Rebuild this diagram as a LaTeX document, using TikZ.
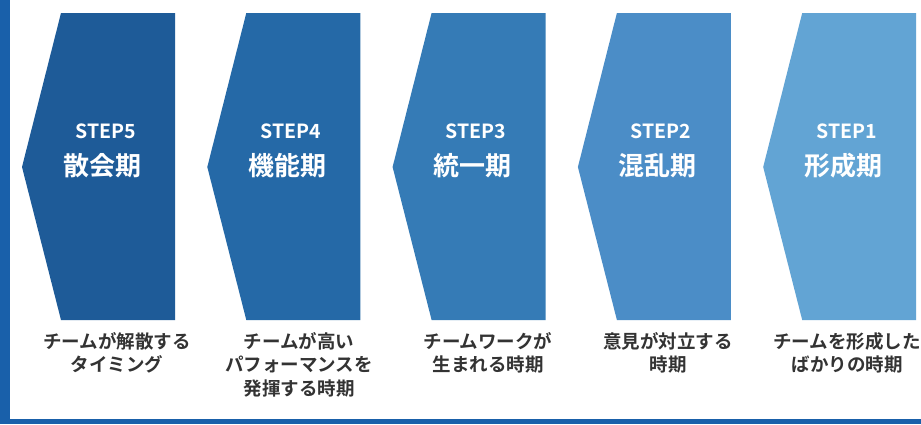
\documentclass[tikz,border=0pt]{standalone}
\usepackage{fontspec}
\setmainfont{Noto Sans CJK JP}
\newfontfamily\jpb{Noto Sans CJK JP Bold}
\definecolor{cfive}{HTML}{1E5B98}
\definecolor{cfour}{HTML}{2569A7}
\definecolor{cthree}{HTML}{357BB6}
\definecolor{ctwo}{HTML}{4B8DC7}
\definecolor{cone}{HTML}{62A4D4}
\definecolor{frame}{HTML}{1960AA}
\definecolor{captxt}{HTML}{333333}
\tikzset{
  steplabel/.style={text=white, font=\jpb\fontsize{19.5}{21}\selectfont, inner sep=0pt, anchor=center},
  phaselabel/.style={text=white, font=\jpb\fontsize{26}{28}\selectfont, inner sep=0pt, anchor=center},
  caption/.style={text=captxt, font=\jpb\fontsize{18.5}{23.5}\selectfont, align=center, inner sep=0pt, anchor=north}
}
\begin{document}
\begin{tikzpicture}[x=1pt,y=-1pt]
\useasboundingbox (0,0) rectangle (921,424);
\fill[white] (0,0) rectangle (921,424);
% frame
\fill[frame] (0,0) rectangle (10,424);
\fill[frame] (0,419) rectangle (921,424);
% arrow shapes
\foreach \i/\c in {0/cfive,1/cfour,2/cthree,3/ctwo,4/cone}{
  \pgfmathsetmacro{\dx}{185.3*\i}
  \fill[\c] (61+\dx,13) -- (175+\dx,13) -- (175+\dx,320) -- (61+\dx,320) -- (22+\dx,167) -- cycle;
}
% labels
\node[steplabel] (s5) at (106,131) {STEP5};
\node[phaselabel] (p5) at (102,166) {散会期};
\node[steplabel] (s4) at (291,131) {STEP4};
\node[phaselabel] (p4) at (287,166) {機能期};
\node[steplabel] (s3) at (476,131) {STEP3};
\node[phaselabel] (p3) at (472,166) {統一期};
\node[steplabel] (s2) at (661,131) {STEP2};
\node[phaselabel] (p2) at (657,166) {混乱期};
\node[steplabel] (s1) at (847,131) {STEP1};
\node[phaselabel] (p1) at (843,166) {形成期};
% captions
\node[caption] (c5) at (117,332) {チームが解散する\\タイミング};
\node[caption] (c4) at (299,332) {チームが高い\\パフォーマンスを\\発揮する時期};
\node[caption] (c3) at (488,332) {チームワークが\\生まれる時期};
\node[caption] (c2) at (668,332) {意見が対立する\\時期};
\node[caption] (c1) at (847,332) {チームを形成した\\ばかりの時期};
\end{tikzpicture}
\end{document}
